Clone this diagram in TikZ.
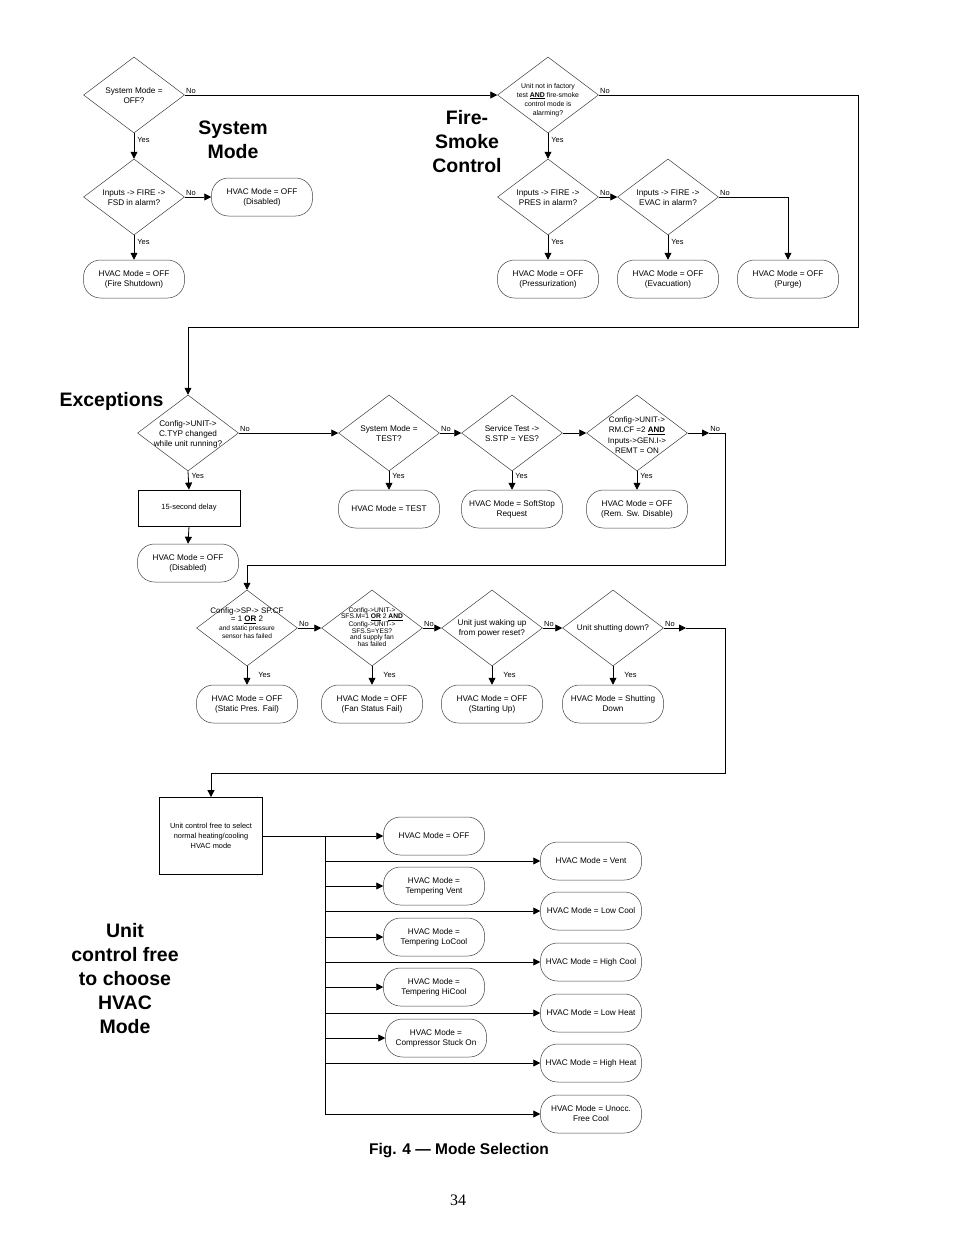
\documentclass[tikz,border=0pt]{standalone}
\usepackage{fontspec}
\setmainfont{Liberation Sans}
\newfontfamily\serifpn{Liberation Serif}
\usetikzlibrary{shapes.geometric,arrows.meta,calc}
\tikzset{
  dia/.style={diamond, draw=black!75, line width=0.5pt, minimum width=101pt, minimum height=76pt, inner sep=0pt},
  dtxt/.style={font=\fontsize{8.2}{10}\selectfont, align=center, inner sep=0pt},
  term/.style={rectangle, rounded corners=17pt, draw=black!75, line width=0.5pt, minimum width=101pt, minimum height=38pt, inner sep=1pt, align=center, font=\fontsize{8.2}{10}\selectfont},
  proc/.style={rectangle, draw, line width=0.8pt, align=center, inner sep=1pt},
  ln/.style={line width=0.8pt},
  arr/.style={line width=0.8pt, -{Triangle[length=7pt,width=7pt]}},
  lbl/.style={font=\fontsize{7.5}{9}\selectfont, inner sep=1pt},
  nolbl/.style={lbl, at start, anchor=south west},
  yes/.style={lbl, anchor=west, xshift=2pt, pos=#1},
  yes/.default=0.3,
  ttl/.style={font=\fontsize{19.5}{24}\selectfont\bfseries, align=center}
}
\begin{document}
\begin{tikzpicture}[x=1pt,y=-1pt]
\path[use as bounding box] (0,0) rectangle (954,1235);

% ---------- titles
\node[ttl] (tsys) at (233,140) {System\\Mode};
\node[ttl] (tfire) at (467,142) {Fire-\\Smoke\\Control};
\node[ttl, anchor=west] (texc) at (56,401) {Exceptions};
\node[ttl] (tunit) at (125,979) {Unit\\control free\\to choose\\HVAC\\Mode};
\node[font=\fontsize{15.5}{18}\selectfont\bfseries] (cap) at (459,1151) {Fig. 4 — Mode Selection};
\node[font=\serifpn\fontsize{16}{18}\selectfont] (pg) at (458,1200) {34};

% ---------- system mode
\node[dia] (d1) at (134,95) {};
\node[dtxt] (d1t) at (134,96) {System Mode =\\OFF?};
\node[dia] (d2) at (134,197) {};
\node[dtxt] (d2t) at (134,198) {Inputs -> FIRE ->\\FSD in alarm?};
\node[term] (bdis) at (262,197) {HVAC Mode = OFF\\(Disabled)};
\node[term] (bfsd) at (134,279) {HVAC Mode = OFF\\(Fire Shutdown)};

% ---------- fire-smoke
\node[dia] (f1) at (548,95) {};
\node[dtxt, font=\fontsize{6.9}{9}\selectfont] (f1t) at (548,100) {Unit not in factory\\test \underline{\textbf{AND}} fire-smoke\\control mode is\\alarming?};
\node[dia] (f2) at (548,197) {};
\node[dtxt] (f2t) at (548,198) {Inputs -> FIRE ->\\PRES in alarm?};
\node[dia] (f3) at (668,197) {};
\node[dtxt] (f3t) at (668,198) {Inputs -> FIRE ->\\EVAC in alarm?};
\node[term] (bpres) at (548,279) {HVAC Mode = OFF\\(Pressurization)};
\node[term] (bevac) at (668,279) {HVAC Mode = OFF\\(Evacuation)};
\node[term] (bpurge) at (788,279) {HVAC Mode = OFF\\(Purge)};

% ---------- exceptions
\node[dia] (c1) at (188,433) {};
\node[dtxt] (c1t) at (188,434) {Config->UNIT->\\C.TYP changed\\while unit running?};
\node[dia] (c2) at (389,433) {};
\node[dtxt] (c2t) at (389,434) {System Mode =\\TEST?};
\node[dia] (c3) at (512,433) {};
\node[dtxt] (c3t) at (512,434) {Service Test ->\\S.STP = YES?};
\node[dia] (c4) at (637,433) {};
\node[dtxt, font=\fontsize{8}{10.3}\selectfont] (c4t) at (637,435) {Config->UNIT->\\RM.CF =2 \underline{\textbf{AND}}\\Inputs->GEN.I->\\REMT = ON};
\node[proc, minimum width=102pt, minimum height=36pt, font=\fontsize{7.5}{9}\selectfont] (delay) at (189,508) {15-second delay};
\node[term] (bdis2) at (188,563) {HVAC Mode = OFF\\(Disabled)};
\node[term] (btest) at (389,509) {HVAC Mode = TEST};
\node[term] (bsoft) at (512,509) {HVAC Mode = SoftStop\\Request};
\node[term] (brem) at (637,509) {HVAC Mode = OFF\\(Rem. Sw. Disable)};

% ---------- second row
\node[dia] (s1) at (247,628) {};
\node[dtxt, font=\fontsize{8}{8.5}\selectfont] (s1t) at (247,623) {Config->SP-> SP.CF\\= 1 \underline{\textbf{OR}} 2\\{\fontsize{6.6}{6}\selectfont and static pressure}\\{\fontsize{6.6}{6}\selectfont sensor has failed}};
\node[dia] (s2) at (372,628) {};
\node[dtxt, font=\fontsize{6.7}{6.5}\selectfont] (s2t) at (372,627) {Config->UNIT->\\SFS.M=1 \underline{\textbf{OR}} 2 \underline{\textbf{AND}}\\Config->UNIT->\\SFS.S=YES?\\and supply fan\\has failed};
\node[dia] (s3) at (492,628) {};
\node[dtxt] (s3t) at (492,628) {Unit just waking up\\from power reset?};
\node[dia] (s4) at (613,628) {};
\node[dtxt] (s4t) at (613,628) {Unit shutting down?};
\node[term] (bsp) at (247,704) {HVAC Mode = OFF\\(Static Pres. Fail)};
\node[term] (bfan) at (372,704) {HVAC Mode = OFF\\(Fan Status Fail)};
\node[term] (bstart) at (492,704) {HVAC Mode = OFF\\(Starting Up)};
\node[term] (bshut) at (613,704) {HVAC Mode = Shutting\\Down};

% ---------- unit control free
\node[proc, minimum width=103pt, minimum height=77pt, font=\fontsize{7.4}{10}\selectfont] (u) at (211,836) {Unit control free to select\\normal heating/cooling\\HVAC mode};
\node[term] (l1) at (434,836) {HVAC Mode = OFF};
\node[term] (l2) at (434,886) {HVAC Mode =\\Tempering Vent};
\node[term] (l3) at (434,937) {HVAC Mode =\\Tempering LoCool};
\node[term] (l4) at (434,987) {HVAC Mode =\\Tempering HiCool};
\node[term] (l5) at (436,1038) {HVAC Mode =\\Compressor Stuck On};
\node[term] (r1) at (591,861) {HVAC Mode = Vent};
\node[term] (r2) at (591,911) {HVAC Mode = Low Cool};
\node[term] (r3) at (591,962) {HVAC Mode = High Cool};
\node[term] (r4) at (591,1013) {HVAC Mode = Low Heat};
\node[term] (r5) at (591,1063) {HVAC Mode = High Heat};
\node[term] (r6) at (591,1114) {HVAC Mode = Unocc.\\Free Cool};

% ---------- helper coordinates
\coordinate (k1) at (858,95);
\coordinate (k2) at (858,327);
\coordinate (k3) at (188,327);
\coordinate (m1) at (709,433);
\coordinate (k4) at (725,433);
\coordinate (k5) at (725,565);
\coordinate (k6) at (247,565);
\coordinate (m2) at (686,628);
\coordinate (k7) at (725,628);
\coordinate (k8) at (725,773);
\coordinate (k9) at (211,773);
\coordinate (tr) at (325,836);

% ---------- connectors: system mode
\draw[arr] (d1.south) -- node[yes=0.27]{Yes} (d2.north);
\draw[arr] (d1.east) -- node[nolbl]{No} (f1.west);
\draw[arr] (d2.east) -- node[nolbl]{No} (bdis.west);
\draw[arr] (d2.south) -- node[yes=0.27]{Yes} (bfsd.north);
% fire-smoke
\draw[arr] (f1.south) -- node[yes=0.27]{Yes} (f2.north);
\draw[arr] (f1.east) -- node[nolbl]{No} (k1) -- (k2) -- (k3) -- (c1.north);
\draw[arr] (f2.east) -- node[nolbl]{No} (f3.west);
\draw[arr] (f2.south) -- node[yes=0.27]{Yes} (bpres.north);
\draw[arr] (f3.south) -- node[yes=0.27]{Yes} (bevac.north);
\draw[arr] (f3.east) -- node[nolbl]{No} (f3.east -| bpurge) -- (bpurge.north);
% exceptions
\draw[arr] (c1.east) -- node[nolbl]{No} (c2.west);
\draw[arr] (c1.south) -- node[yes=0.27]{Yes} (delay.north);
\draw[arr] (delay.south) -- (bdis2.north);
\draw[arr] (c2.east) -- node[nolbl]{No} (c3.west);
\draw[arr] (c2.south) -- node[yes=0.27]{Yes} (btest.north);
\draw[arr] (c3.east) -- (c4.west);
\draw[arr] (c3.south) -- node[yes=0.27]{Yes} (bsoft.north);
\draw[arr] (c4.south) -- node[yes=0.27]{Yes} (brem.north);
\draw[arr] (c4.east) -- (m1);
\draw[arr] (m1) -- node[nolbl]{No} (k4) -- (k5) -- (k6) -- (s1.north);
% second row
\draw[arr] (s1.east) -- node[nolbl]{No} (s2.west);
\draw[arr] (s2.east) -- node[nolbl]{No} (s3.west);
\draw[arr] (s3.east) -- node[nolbl]{No} (s4.west);
\draw[arr] (s4.east) -- node[nolbl]{No} (m2);
\draw[arr] (m2) -- (k7) -- (k8) -- (k9) -- (u.north);
\draw[arr] (s1.south) -- node[yes=0.45, xshift=8pt]{Yes} (bsp.north);
\draw[arr] (s2.south) -- node[yes=0.45, xshift=8pt]{Yes} (bfan.north);
\draw[arr] (s3.south) -- node[yes=0.45, xshift=8pt]{Yes} (bstart.north);
\draw[arr] (s4.south) -- node[yes=0.45, xshift=8pt]{Yes} (bshut.north);
% unit control free
\draw[arr] (u.east) -- (l1.west);
\draw[ln] (tr) -- (tr |- r6.west);
\foreach \b in {l2,l3,l4,l5,r1,r2,r3,r4,r5,r6}{
  \draw[arr] (tr |- \b.west) -- (\b.west);
}
\end{tikzpicture}
\end{document}
